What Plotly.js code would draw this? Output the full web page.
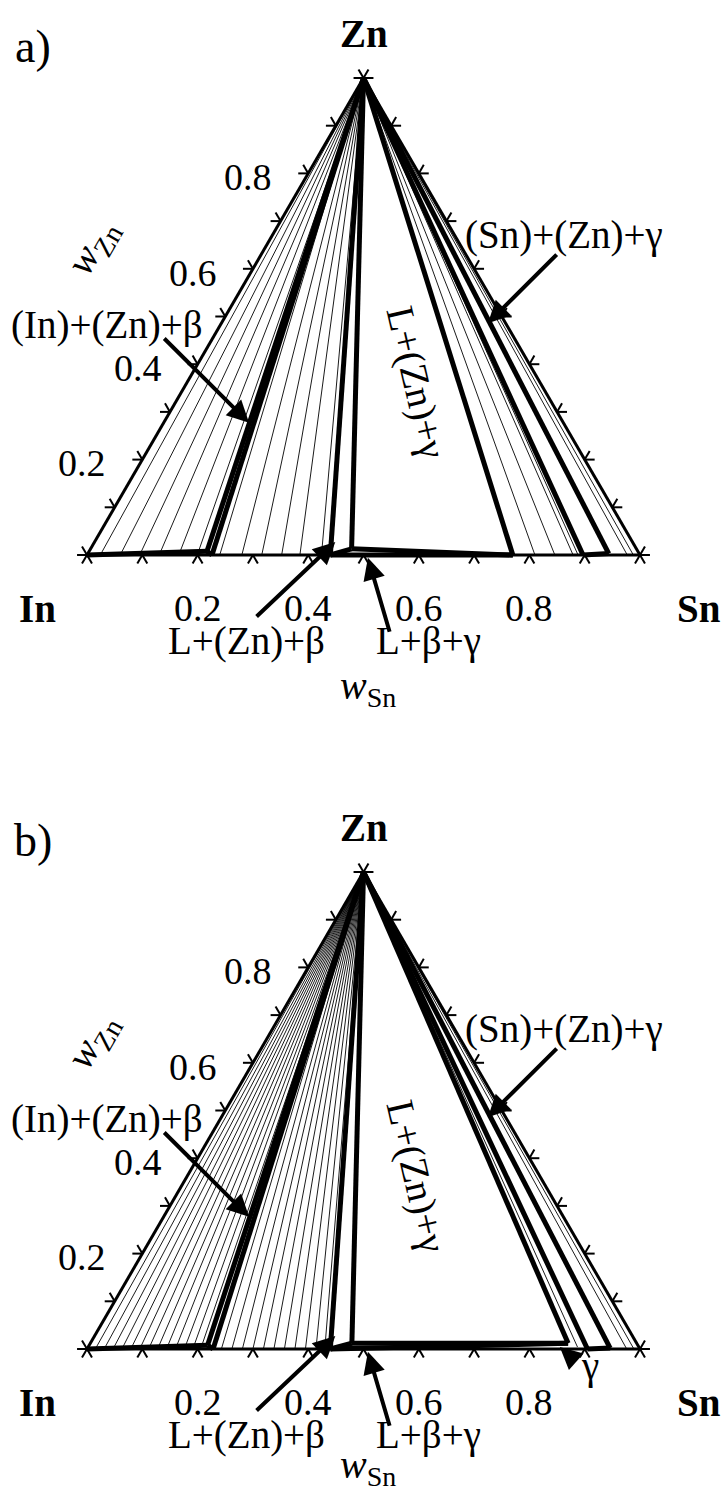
<!DOCTYPE html>
<html>
<head>
<meta charset="utf-8">
<script src="https://cdn.plot.ly/plotly-3.0.1.min.js"></script>
<style>html,body{margin:0;padding:0;background:#fff;}</style>
</head>
<body>
<div id="chart" style="width:725px;height:1495px;"></div>
<script>
// In–Sn–Zn isothermal sections, compositions as mass fractions (wSn, wZn).

// Axis ticks on every edge, and the printed tick labels
const tickValues = [0, 0.1, 0.2, 0.3, 0.4, 0.5, 0.6, 0.7, 0.8, 0.9, 1.0];
const labelValues = [0.2, 0.4, 0.6, 0.8];
const labelText = ['0.2', '0.4', '0.6', '0.8'];

// ---- section a) ----
// thin tie-lines (Zn corner to these compositions)
const aTieSn = [0.024, 0.060, 0.095, 0.130, 0.165, 0.198,
                0.240, 0.280, 0.316, 0.352, 0.385, 0.424,
                0.810, 0.846, 0.879, 0.888, 0.976, 0.987];
const aTieZn = [0.001, 0.002, 0.003, 0.004, 0.006, 0.007,
                0, 0, 0, 0, 0, 0,
                0, 0, 0, 0, 0.001, 0.001];
// three-phase corners: (In), β low, β high, L, γ (L side), γ (Sn side), (Sn)
const aCornerSn = [0.213, 0.226, 0.440, 0.472, 0.770, 0.897, 0.942];
const aCornerZn = [0.008, 0.000, 0.000, 0.013, 0.000, 0.000, 0.003];

// ---- section b) ----
const bTieSn = [0.015, 0.031, 0.047, 0.063, 0.079, 0.095, 0.111, 0.127,
                0.143, 0.159, 0.175, 0.190, 0.204,
                0.243, 0.262, 0.281, 0.300, 0.319, 0.338, 0.357, 0.376,
                0.395, 0.414, 0.430,
                0.885, 0.975, 0.988];
const bTieZn = [0.001, 0.001, 0.002, 0.002, 0.003, 0.004, 0.004, 0.005,
                0.005, 0.006, 0.006, 0.007, 0.007,
                0, 0, 0, 0, 0, 0, 0, 0, 0, 0, 0,
                0.004, 0.001, 0.001];
const bCornerSn = [0.214, 0.228, 0.440, 0.473, 0.864, 0.905, 0.945];
const bCornerZn = [0.008, 0.000, 0.000, 0.012, 0.012, 0.000, 0.002];

// composition -> drawing coordinates of the triangle
function X(s, z) { return s + z / 2; }
function Y(s, z) { return z; }

function segs(list) {
  const xs = [], ys = [];
  list.forEach(function (p) {
    xs.push(X(p[0], p[1]), X(p[2], p[3]), null);
    ys.push(Y(p[0], p[1]), Y(p[2], p[3]), null);
  });
  return {x: xs, y: ys};
}

const FONT = 'Liberation Serif, Times New Roman, serif';
const TL = 0.018;   // tick length in mass fraction

function panel(tieSn, tieZn, cSn, cZn, xa, ya) {
  const traces = [];
  function add(list, w) {
    const d = segs(list);
    traces.push({type: 'scatter', mode: 'lines', x: d.x, y: d.y, xaxis: xa, yaxis: ya,
      line: {color: '#000', width: w}, hoverinfo: 'skip', showlegend: false});
  }
  // tie-lines from the Zn corner
  add(tieSn.map(function (s, i) { return [0, 1, s, tieZn[i]]; }), 0.9);
  // ticks
  const ticks = [];
  tickValues.forEach(function (v) {
    ticks.push([v, 0, v, -TL], [v, 0, v + TL, -TL]);               // In–Sn edge
    ticks.push([0, v, -TL, v], [0, v, -TL, v + TL]);               // In–Zn edge
    ticks.push([1 - v, v, 1 - v + TL, v], [1 - v, v, 1 - v, v + TL]); // Sn–Zn edge
  });
  add(ticks, 2);
  // three-phase triangles
  const thick = [];
  cSn.forEach(function (s, i) { thick.push([0, 1, s, cZn[i]]); });
  thick.push([0, 0, cSn[0], cZn[0]]);            // (In) boundary
  thick.push([cSn[0], cZn[0], cSn[1], cZn[1]]);  // (In)+(Zn)+β base
  thick.push([cSn[2], cZn[2], cSn[3], cZn[3]]);  // L+(Zn)+β base
  thick.push([cSn[3], cZn[3], cSn[4], cZn[4]]);  // L–γ side
  thick.push([cSn[2], cZn[2], cSn[4], cZn[4]]);  // β–γ side
  thick.push([cSn[5], cZn[5], cSn[6], cZn[6]]);  // γ–(Sn) side
  add(thick, 5);
  // outer triangle
  add([[0, 0, 1, 0], [1, 0, 0, 1], [0, 1, 0, 0]], 3);
  return traces;
}

let data = [];
data = data.concat(panel(aTieSn, aTieZn, aCornerSn, aCornerZn, 'x', 'y'));
data = data.concat(panel(bTieSn, bTieZn, bCornerSn, bCornerZn, 'x2', 'y2'));

function txt(xr, yr, x, y, text, size, opt) {
  const a = {xref: xr, yref: yr, x: x, y: y, text: text, showarrow: false,
    xanchor: 'center', yanchor: 'middle',
    font: {family: FONT, size: size, color: '#000'}};
  return Object.assign(a, opt || {});
}
function arrow(xr, yr, x0, y0, x1, y1) {
  return {xref: xr, yref: yr, axref: xr, ayref: yr, x: x1, y: y1, ax: x0, ay: y0,
    text: '', showarrow: true, arrowhead: 2, arrowsize: 1.1, arrowwidth: 4,
    arrowcolor: '#000', standoff: 0, startstandoff: 0};
}

function panelText(xr, yr, tag, withGamma, wSnY) {
  const ann = [];
  ann.push(txt(xr, yr, -0.098, 1.066, tag, 46));
  ann.push(txt(xr, yr, 0.5, 1.094, '<b>Zn</b>', 39));
  ann.push(txt(xr, yr, -0.090, -0.113, '<b>In</b>', 39));
  ann.push(txt(xr, yr, 1.107, -0.113, '<b>Sn</b>', 39));
  labelValues.forEach(function (v, i) {
    ann.push(txt(xr, yr, X(v, 0), -0.111, labelText[i], 38));
    ann.push(txt(xr, yr, X(0, v) - 0.1085, v - 0.008, labelText[i], 38));
  });
  ann.push(txt(xr, yr, 0.011, 0.645, '<i>w</i><sub>Zn</sub>', 40, {textangle: -60}));
  ann.push(txt(xr, yr, 0.508, wSnY, '<i>w</i><sub>Sn</sub>', 40));
  ann.push(txt(xr, yr, 0.036, 0.482, '(In)+(Zn)+β', 39));
  ann.push(txt(xr, yr, 0.863, 0.671, '(Sn)+(Zn)+γ', 39));
  ann.push(txt(xr, yr, 0.289, -0.180, 'L+(Zn)+β', 39));
  ann.push(txt(xr, yr, 0.617, -0.180, 'L+β+γ', 39));
  ann.push(txt(xr, yr, 0.595, 0.362, 'L+(Zn)+γ', 39, {textangle: 77}));
  ann.push(arrow(xr, yr, 0.137, 0.457, 0.293, 0.277));
  ann.push(arrow(xr, yr, 0.852, 0.633, 0.725, 0.486));
  ann.push(arrow(xr, yr, 0.304, -0.132, 0.449, 0.027));
  ann.push(arrow(xr, yr, 0.548, -0.164, 0.508, -0.006));
  if (withGamma) {
    ann.push(txt(xr, yr, 0.910, -0.036, 'γ', 39));
    ann.push(arrow(xr, yr, 0.886, -0.028, 0.855, 0.004));
  }
  return ann;
}

const xr = [-87 / 553, (725 - 87) / 553];
const layout = {
  width: 725, height: 1495,
  margin: {l: 0, r: 0, t: 0, b: 0},
  paper_bgcolor: '#fff', plot_bgcolor: 'rgba(0,0,0,0)',
  showlegend: false,
  xaxis:  {domain: [0, 1], range: xr, visible: false, fixedrange: true},
  yaxis:  {domain: [0.5, 1], range: [(555 - 747.5) / 477, 555 / 477], visible: false, fixedrange: true, anchor: 'x'},
  xaxis2: {domain: [0, 1], range: xr, visible: false, fixedrange: true, anchor: 'y2'},
  yaxis2: {domain: [0, 0.5], range: [(1349 - 1495) / 477, (1349 - 747.5) / 477], visible: false, fixedrange: true, anchor: 'x2'},
  annotations: panelText('x', 'y', 'a)', false, -0.279).concat(panelText('x2', 'y2', 'b)', true, -0.248))
};

Plotly.newPlot('chart', data, layout, {staticPlot: true, displayModeBar: false});
</script>
</body>
</html>
